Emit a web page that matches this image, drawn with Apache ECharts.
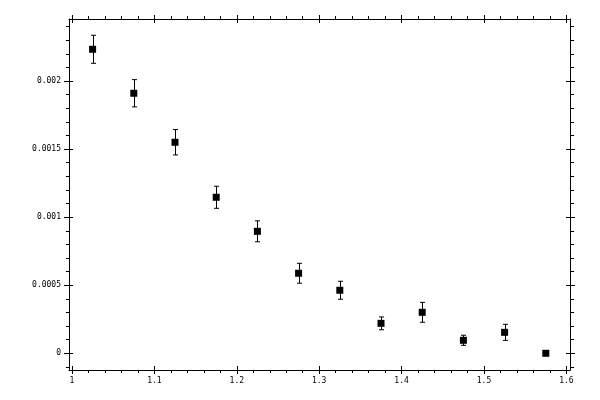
<!DOCTYPE html>
<html>
<head>
<meta charset="utf-8">
<script src="https://cdn.jsdelivr.net/npm/echarts@6/dist/echarts.min.js"></script>
<style>html,body{margin:0;padding:0;background:#fff}#c{width:600px;height:400px}</style>
</head>
<body>
<div id="c"></div>
<script>
// Data
var xValues = [1.025, 1.075, 1.125, 1.175, 1.225, 1.275, 1.325, 1.375, 1.425, 1.475, 1.525, 1.575];
var yValues = [0.002233, 0.001910, 0.001550, 0.001146, 0.000896, 0.000588, 0.000463, 0.000220, 0.000301, 0.0000955, 0.000154, 0.0];
var yErrors = [0.000103, 0.000100, 0.000093, 0.000081, 0.000077, 0.000073, 0.000066, 0.000047, 0.000073, 0.000037, 0.000059, 0.0];

// Tick values
var xMajorTicks = [1, 1.1, 1.2, 1.3, 1.4, 1.5, 1.6];
var xAllTicks = [1, 1.02, 1.04, 1.06, 1.08, 1.1, 1.12, 1.14, 1.16, 1.18, 1.2, 1.22, 1.24, 1.26, 1.28, 1.3,
  1.32, 1.34, 1.36, 1.38, 1.4, 1.42, 1.44, 1.46, 1.48, 1.5, 1.52, 1.54, 1.56, 1.58, 1.6];
var yMajorTicks = [0, 0.0005, 0.001, 0.0015, 0.002];
var yAllTicks = [-0.0001, 0, 0.0001, 0.0002, 0.0003, 0.0004, 0.0005, 0.0006, 0.0007, 0.0008, 0.0009, 0.001,
  0.0011, 0.0012, 0.0013, 0.0014, 0.0015, 0.0016, 0.0017, 0.0018, 0.0019, 0.002, 0.0021, 0.0022, 0.0023, 0.0024];
var xLabels = ['1', '1.1', '1.2', '1.3', '1.4', '1.5', '1.6'];
var yLabels = ['0', '0.0005', '0.001', '0.0015', '0.002'];

var X_MIN = 0.99636, X_MAX = 1.60437, Y_MIN = -0.0001227, Y_MAX = 0.0024554;
var FONT = 'DejaVu Sans Mono';

function xAxisDef(pos, showLine, inside, ticks, len, labels) {
  return {
    type: 'value', position: pos, min: X_MIN, max: X_MAX,
    splitLine: { show: false },
    axisLine: { show: showLine, onZero: false, lineStyle: { color: '#000', width: 1 } },
    axisTick: { show: true, inside: inside, length: len, customValues: ticks, lineStyle: { color: '#000', width: 1 } },
    axisLabel: labels ? {
      show: true, customValues: xMajorTicks, margin: 7, color: '#000', fontFamily: FONT, fontSize: 8,
      formatter: function (v) { var i = xMajorTicks.indexOf(Math.round(v * 1000) / 1000); return i >= 0 ? xLabels[i] : ''; }
    } : { show: false }
  };
}
function yAxisDef(pos, showLine, inside, ticks, len, labels) {
  return {
    type: 'value', position: pos, min: Y_MIN, max: Y_MAX,
    splitLine: { show: false },
    axisLine: { show: showLine, onZero: false, lineStyle: { color: '#000', width: 1 } },
    axisTick: { show: true, inside: inside, length: len, customValues: ticks, lineStyle: { color: '#000', width: 1 } },
    axisLabel: labels ? {
      show: true, customValues: yMajorTicks, margin: 8, color: '#000', fontFamily: FONT, fontSize: 8,
      formatter: function (v) { var i = yMajorTicks.indexOf(Math.round(v * 1e5) / 1e5); return i >= 0 ? yLabels[i] : ''; }
    } : { show: false }
  };
}

var chart = echarts.init(document.getElementById('c'), null, { renderer: 'canvas' });
chart.setOption({
  animation: false,
  backgroundColor: '#fff',
  grid: { left: 69, right: 30, top: 19, bottom: 30, containLabel: false },
  xAxis: [
    xAxisDef('bottom', true, false, xAllTicks, 3, true),
    xAxisDef('bottom', false, true, xMajorTicks, 4, false),
    xAxisDef('bottom', false, false, xMajorTicks, 4, false),
    xAxisDef('top', true, false, xAllTicks, 3, false),
    xAxisDef('top', false, true, xMajorTicks, 4, false),
    xAxisDef('top', false, false, xMajorTicks, 4, false)
  ],
  yAxis: [
    yAxisDef('left', true, false, yAllTicks, 3, true),
    yAxisDef('left', false, true, yMajorTicks, 4, false),
    yAxisDef('left', false, false, yMajorTicks, 5, false),
    yAxisDef('right', true, false, yAllTicks, 4, false),
    yAxisDef('right', false, true, yMajorTicks, 4, false),
    yAxisDef('right', false, false, yMajorTicks, 5, false)
  ],
  series: [
    {
      type: 'custom',
      xAxisIndex: 0, yAxisIndex: 0,
      data: xValues.map(function (x, i) { return [x, yValues[i] - yErrors[i], yValues[i] + yErrors[i]]; }),
      renderItem: function (params, api) {
        var lo = api.coord([api.value(0), api.value(1)]);
        var hi = api.coord([api.value(0), api.value(2)]);
        if (Math.abs(lo[1] - hi[1]) < 0.5) return null;
        var x = Math.round(lo[0]) + 0.5;
        var w = 2.5;
        var style = { stroke: '#000', lineWidth: 1, fill: null };
        return {
          type: 'group',
          children: [
            { type: 'line', shape: { x1: x, y1: hi[1], x2: x, y2: lo[1] }, style: style },
            { type: 'line', shape: { x1: x - w, y1: hi[1], x2: x + w, y2: hi[1] }, style: style },
            { type: 'line', shape: { x1: x - w, y1: lo[1], x2: x + w, y2: lo[1] }, style: style }
          ]
        };
      },
      z: 2
    },
    {
      type: 'scatter',
      xAxisIndex: 0, yAxisIndex: 0,
      symbol: 'rect', symbolSize: 7,
      itemStyle: { color: '#000', opacity: 1 },
      emphasis: { disabled: true },
      data: xValues.map(function (x, i) { return [x, yValues[i]]; }),
      z: 3
    }
  ]
});
</script>
</body>
</html>
